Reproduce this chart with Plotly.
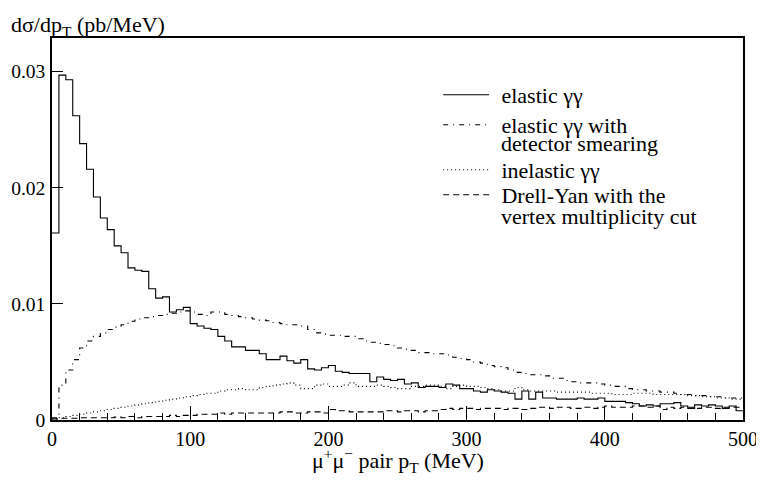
import numpy as np
import plotly.graph_objects as go

# Bin layout: 100 bins of 5 MeV from 0 to 500 MeV
bin_width = 5
n_bins = 100

elastic = [
    0.0161, 0.0297, 0.0293, 0.0262, 0.0238, 0.0216, 0.0192, 0.0174, 0.0164, 0.0150,
    0.0144, 0.0131, 0.0129, 0.0128, 0.0113, 0.0105, 0.0106, 0.0093, 0.0095, 0.0097,
    0.0083, 0.0081, 0.0079, 0.0078, 0.0072, 0.0068, 0.0063, 0.0063, 0.0060, 0.0060,
    0.0057, 0.0052, 0.0052, 0.0055, 0.0051, 0.0049, 0.0052, 0.0044, 0.0043, 0.0045,
    0.0047, 0.0042, 0.0041, 0.0040, 0.0040, 0.0040, 0.0033, 0.0037, 0.0035, 0.0034,
    0.0035, 0.0031, 0.0032, 0.0028, 0.0029, 0.0029, 0.0028, 0.0031, 0.0030, 0.0027,
    0.0027, 0.0025, 0.0024, 0.0026, 0.0025, 0.0024, 0.0023, 0.0018, 0.0025, 0.0018,
    0.0024, 0.0019, 0.0019, 0.0018, 0.0018, 0.0018, 0.0019, 0.0018, 0.0018, 0.0019,
    0.0016, 0.0016, 0.0016, 0.0015, 0.0014, 0.0012, 0.0013, 0.0012, 0.0014, 0.0014,
    0.0015, 0.0012, 0.0010, 0.0013, 0.0012, 0.0013, 0.0012, 0.0010, 0.0012, 0.0008,
]

elastic_smeared = [
    0.0002, 0.0030, 0.0043, 0.0052, 0.0062, 0.0068, 0.0072, 0.0075, 0.0078, 0.0080,
    0.0082, 0.0085, 0.0087, 0.0088, 0.0089, 0.0090, 0.0091, 0.0092, 0.0093, 0.0094,
    0.0093, 0.0091, 0.0090, 0.0093, 0.0093, 0.0091, 0.0090, 0.0089, 0.0088, 0.0087,
    0.0086, 0.00855, 0.0084, 0.0083, 0.0082, 0.0082, 0.0081, 0.0078, 0.0075, 0.0074,
    0.0073, 0.0073, 0.0072, 0.0072, 0.0070, 0.0068, 0.0067, 0.0066, 0.0065, 0.0064,
    0.0062, 0.0061, 0.0060, 0.0058, 0.0058, 0.0057, 0.0057, 0.0056, 0.0054, 0.0053,
    0.0052, 0.0050, 0.0049, 0.0047, 0.0046, 0.0045, 0.0043, 0.0041, 0.0040, 0.0039,
    0.0039, 0.0038, 0.0036, 0.0036, 0.0034, 0.0033, 0.0032, 0.0032, 0.0032, 0.0031,
    0.0030, 0.0029, 0.0029, 0.0027, 0.0026, 0.0026, 0.0025, 0.0025, 0.0024, 0.0024,
    0.0023, 0.0022, 0.0022, 0.0021, 0.0021, 0.0020, 0.0020, 0.0019, 0.0019, 0.0019,
]

inelastic = [
    0.0001, 0.0002, 0.0003, 0.0004, 0.0005, 0.0006, 0.0007, 0.0008, 0.0009, 0.0010,
    0.0011, 0.0012, 0.0013, 0.0014, 0.0015, 0.0016, 0.0017, 0.0018, 0.0019, 0.0020,
    0.0021, 0.0022, 0.0023, 0.0023, 0.0025, 0.0026, 0.0026, 0.0027, 0.0026, 0.0026,
    0.0028, 0.0029, 0.0030, 0.0031, 0.0032, 0.0030, 0.0027, 0.0027, 0.0030, 0.0031,
    0.0029, 0.0029, 0.0030, 0.0032, 0.0029, 0.0029, 0.0029, 0.0030, 0.0029, 0.0028,
    0.0027, 0.0027, 0.0029, 0.0029, 0.0030, 0.0030, 0.0029, 0.0027, 0.0029, 0.0030,
    0.0029, 0.0029, 0.0028, 0.0027, 0.0026, 0.0025, 0.0025, 0.0028, 0.0026, 0.0025,
    0.0025, 0.0025, 0.0025, 0.0024, 0.0024, 0.0024, 0.0024, 0.0024, 0.0023, 0.0023,
    0.0023, 0.0022, 0.0022, 0.0022, 0.0023, 0.0023, 0.0023, 0.0022, 0.0022, 0.0022,
    0.0022, 0.0022, 0.0021, 0.0021, 0.0020, 0.0020, 0.0019, 0.0019, 0.0018, 0.0018,
]

drell_yan = [
    0.0001, 0.00015, 0.00015, 0.00015, 0.0002, 0.0002, 0.0002, 0.0002, 0.0002, 0.00025,
    0.0002, 0.0003, 0.0002, 0.0003, 0.0003, 0.0003, 0.0003, 0.0004, 0.0003, 0.0004,
    0.0004, 0.0005, 0.0005, 0.0005, 0.0006, 0.0005, 0.0006, 0.0006, 0.0006, 0.0006,
    0.0006, 0.0006, 0.0006, 0.0007, 0.0007, 0.0006, 0.0006, 0.0007, 0.0007, 0.0006,
    0.0009, 0.0008, 0.0008, 0.0007, 0.0007, 0.0007, 0.0007, 0.0007, 0.0008, 0.0008,
    0.0007, 0.0008, 0.0008, 0.0007, 0.0008, 0.0008, 0.0009, 0.0010, 0.0009, 0.0010,
    0.0010, 0.0009, 0.0010, 0.0010, 0.0010, 0.0009, 0.0010, 0.0010, 0.0009, 0.0010,
    0.0011, 0.0011, 0.0010, 0.0011, 0.0011, 0.0010, 0.0010, 0.0011, 0.0010, 0.0011,
    0.0012, 0.0011, 0.0011, 0.0011, 0.0012, 0.0012, 0.0011, 0.0012, 0.0009, 0.0011,
    0.0010, 0.0011, 0.0011, 0.0010, 0.0011, 0.0011, 0.0010, 0.0011, 0.0011, 0.0011,
]

# Legend text: first line goes in the legend entry, second line (if any) below it
series_names = ["elastic γγ", "elastic γγ with", "inelastic γγ", "Drell-Yan with the"]
series_second_lines = ["", "detector smearing", "", "vertex multiplicity cut"]
series_values = [elastic, elastic_smeared, inelastic, drell_yan]
series_dash = ["solid", "5px,5px,1px,5px", "1px,3px", "6px,4px"]
legend_ids = ["legend", "legend2", "legend3", "legend4"]
legend_tops = [0.9058, 0.8272, 0.7094, 0.6440]
second_line_y = [None, 0.7250, None, 0.5340]

y_tick_vals = [0, 0.01, 0.02, 0.03]
y_tick_text = ["0", "0.01", "0.02", "0.03"]

edges = np.arange(n_bins + 1) * bin_width

FONT = "Liberation Serif, Times New Roman, serif"
FS_TICK = 20
FS_YTICK = 19.5
FS_TEXT = 22
GAP = "\u2004"  # small space between legend sample and its text

fig = go.Figure()
for name, vals, dash, lid in zip(series_names, series_values, series_dash, legend_ids):
    xs = list(edges)
    ys = list(vals) + [vals[-1]]
    fig.add_trace(go.Scatter(
        x=xs, y=ys, mode="lines", name=GAP + name, legend=lid,
        line=dict(color="black", width=1.1, dash=dash, shape="hv"),
        hoverinfo="skip",
    ))

legend_common = dict(
    x=0.5588, xanchor="left", yanchor="top",
    bgcolor="rgba(0,0,0,0)", borderwidth=0,
    font=dict(family=FONT, size=FS_TEXT, color="black"),
    valign="top", itemwidth=46,
)
layout_legends = {}
for lid, top in zip(legend_ids, legend_tops):
    layout_legends[lid] = dict(legend_common, y=top)

annotations = [
    dict(
        text="dσ/dp<sub>T</sub> (pb/MeV)", xref="paper", yref="paper",
        x=-0.062, y=1.0733, xanchor="left", yanchor="top", showarrow=False,
        font=dict(family=FONT, size=FS_TEXT, color="black"),
    ),
    dict(
        text="μ<sup>+</sup>μ<sup>−</sup> pair p<sub>T</sub> (MeV)", xref="paper", yref="paper",
        x=0.5, y=-0.107, xanchor="center", yanchor="middle", showarrow=False,
        font=dict(family=FONT, size=FS_TEXT, color="black"),
    ),
]
for txt, yy in zip(series_second_lines, second_line_y):
    if txt:
        annotations.append(dict(
            text=txt, xref="paper", yref="paper", x=0.6469, y=yy,
            xanchor="left", yanchor="middle", showarrow=False,
            font=dict(family=FONT, size=FS_TEXT, color="black"),
        ))

# The page body has an 8px margin; the figure is sized so the plot frame
# lands where the reference has it inside the 764x482 window.
fig.update_layout(
    width=756, height=474,
    margin=dict(l=44, r=21, t=30, b=62, autoexpand=False),
    paper_bgcolor="white", plot_bgcolor="white",
    font=dict(family=FONT, size=FS_TICK, color="black"),
    showlegend=True,
    xaxis=dict(
        range=[0, 500], showgrid=False, zeroline=False, automargin=False,
        showline=True, linecolor="black", linewidth=1.5, mirror=True,
        ticks="inside", ticklen=14, tickwidth=1, tickcolor="black",
        tick0=0, dtick=100, ticklabelstandoff=0,
        minor=dict(ticks="inside", ticklen=7, dtick=20, tickcolor="black", showgrid=False),
        tickfont=dict(family=FONT, size=FS_TICK),
    ),
    yaxis=dict(
        range=[0, 0.0329], showgrid=False, zeroline=False, automargin=False,
        showline=True, linecolor="black", linewidth=1.5, mirror=True,
        ticks="inside", ticklen=11, tickwidth=1, tickcolor="black",
        tickvals=y_tick_vals, ticktext=y_tick_text, ticklabelstandoff=1,
        tickfont=dict(family=FONT, size=FS_YTICK),
    ),
    annotations=annotations,
    **layout_legends,
)

fig.write_html("out.html")
